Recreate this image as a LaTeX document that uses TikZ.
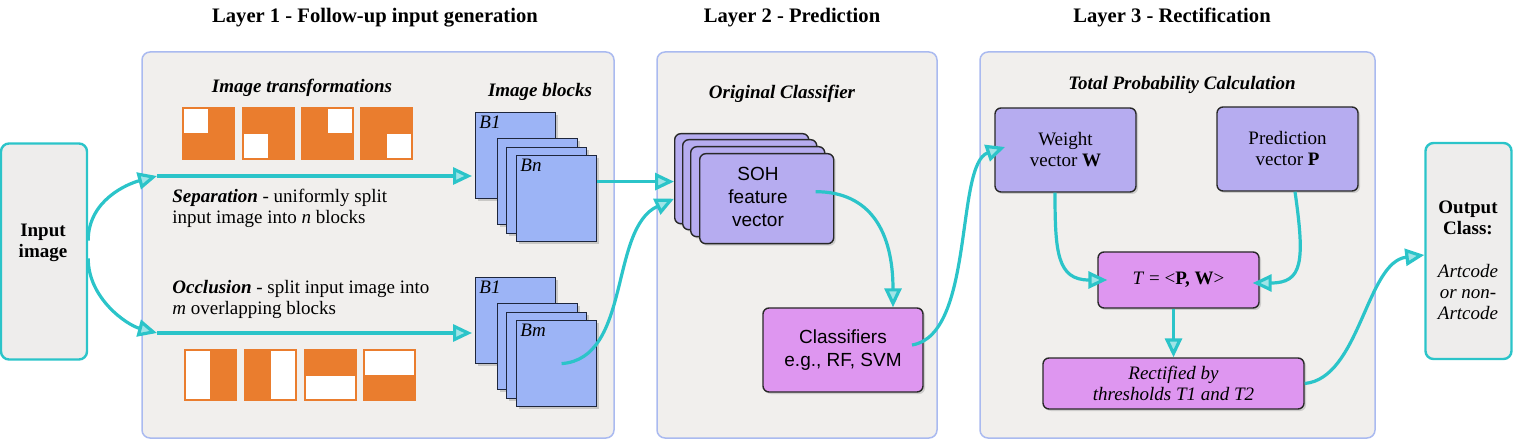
\documentclass[tikz,border=0pt]{standalone}
\usepackage{fontspec}
\setmainfont{Liberation Serif}
\setsansfont{Liberation Sans}
\usetikzlibrary{arrows.meta}
\usetikzlibrary{shadows}
\definecolor{myteal}{RGB}{43,196,201}
\definecolor{panelfill}{RGB}{241,239,237}
\definecolor{panelline}{RGB}{170,186,240}
\definecolor{iofill}{RGB}{238,237,236}
\definecolor{orng}{RGB}{234,125,46}
\definecolor{blkblue}{RGB}{156,180,246}
\definecolor{blkline}{RGB}{30,38,60}
\definecolor{lav}{RGB}{182,172,240}
\definecolor{pink}{RGB}{222,150,240}
\definecolor{boxline}{RGB}{40,40,40}

\tikzset{
  flow/.style={draw=myteal, line width=1.6pt, -{Triangle[length=9.5pt,width=8.5pt,fill=myteal!45!white]}},
  panel/.style={draw=panelline, fill=panelfill, line width=0.75pt, rounded corners=4pt},
  iobox/.style={draw=myteal, fill=iofill, line width=1.2pt, rounded corners=4pt, minimum width=43pt, minimum height=108pt},
  iotext/.style={align=center, inner sep=0pt},
  ttl/.style={anchor=base, inner sep=0pt, font=\fontsize{10.3}{12}\selectfont\bfseries},
  sub/.style={anchor=base, inner sep=0pt, font=\fontsize{9.5}{11}\selectfont\bfseries\itshape},
  blk/.style={anchor=north west, draw=blkline, fill=blkblue, line width=0.6pt, minimum width=40pt, minimum height=43pt, drop shadow={shadow xshift=1.2pt, shadow yshift=-1.2pt, opacity=0.35}},
  blklbl/.style={anchor=north west, inner sep=2pt, font=\fontsize{9.5}{11}\selectfont\itshape},
  card/.style={anchor=north west, draw=boxline, fill=lav, line width=0.7pt, rounded corners=3pt, minimum width=67pt, minimum height=45pt, drop shadow={shadow xshift=1pt, shadow yshift=-1pt, opacity=0.3}},
  vbox/.style={draw=boxline, fill=lav, line width=0.7pt, rounded corners=3pt, minimum width=70.5pt, minimum height=42pt, align=center, inner sep=1pt, drop shadow={shadow xshift=1pt, shadow yshift=-1pt, opacity=0.3}},
  pbox/.style={draw=boxline, fill=pink, line width=0.7pt, rounded corners=3pt, align=center, inner sep=1pt, drop shadow={shadow xshift=1pt, shadow yshift=-1pt, opacity=0.3}},
  sans/.style={font=\fontsize{9.5}{11.5}\selectfont\sffamily}
}

\begin{document}
\begin{tikzpicture}[x=0.5pt,y=-0.5pt,font=\fontsize{9.5}{10.5}\selectfont]
  \useasboundingbox (0,0) rectangle (1515,443);

  % layer panels
  \draw[panel] (142,52) rectangle (614,438);
  \draw[panel] (657,52) rectangle (937,438);
  \draw[panel] (980,52) rectangle (1375,438);
  \node[ttl] (ttlA) at (375,23) {Layer 1 - Follow-up input generation};
  \node[ttl] (ttlB) at (792,23) {Layer 2 - Prediction};
  \node[ttl] (ttlC) at (1172,23) {Layer 3 - Rectification};
  \node[sub] (subT) at (302,93) {Image transformations};
  \node[sub] (subB) at (540,97) {Image blocks};
  \node[sub] (subC) at (782,99) {Original Classifier};
  \node[sub] (subP) at (1182,90) {Total Probability Calculation};

  \node[iobox] (in) at (44,251.5) {};
  \node[iotext] (inTxt) at (43,243) {\textbf{Input}\\\textbf{image}};
  \node[iobox] (out) at (1468.5,251) {};
  \node[iotext] (outTxt) at (1468,260) {\textbf{Output}\\\textbf{Class:}\\[11pt]\textit{Artcode}\\\textit{or non-}\\\textit{Artcode}};

  % transformations
  \foreach \x/\dx/\dy in {182/2/2, 242/2/27, 301/27/2, 360/27/27}{
    \fill[orng] (\x,107) rectangle +(53,53);
    \fill[white] (\x+\dx,107+\dy) rectangle +(24,24);
  }
  \foreach \x/\a/\b/\c/\d in {184/2/2/26/50, 244/27/2/51/50, 304/2/27/51/50, 363/2/2/51/26}{
    \fill[orng] (\x,349) rectangle +(53,52);
    \fill[white] (\x+\a,349+\b) rectangle (\x+\c,349+\d);
  }
  \node[anchor=west, inner sep=0pt, align=left] (sepTxt) at (172,208.5)
    {\textbf{\textit{Separation}} - uniformly split\\input image into \textit{n} blocks};
  \node[anchor=west, inner sep=0pt, align=left] (occTxt) at (172,299.5)
    {\textbf{\textit{Occlusion}} - split input image into\\\textit{m} overlapping blocks};

  % image blocks
  \foreach \sy/\s/\l in {0/top/n, 165/bot/m}{
    \node[blk, label={[blklbl]north west:B1}] (\s1) at (475,112+\sy) {};
    \node[blk] (\s2) at (497,138+\sy) {};
    \node[blk] (\s3) at (506,147+\sy) {};
    \node[blk, label={[blklbl]north west:B\l}] (\s n) at (516,155+\sy) {};
  }

  % prediction
  \foreach \x/\y/\n in {674/133/1, 682/139/2, 690/146/3}{
    \node[card] (soh\n) at (\x,\y) {};
  }
  \node[card] (soh) at (699,153) {};
  \node[sans, align=center, inner sep=0pt] (sohTxt) at (758,197) {SOH\\feature\\vector};
  \node[pbox, sans, minimum width=80pt, minimum height=42pt] (cls) at (843,350) {Classifiers\\e.g., RF, SVM};

  % rectification
  \node[vbox] (wt) at (1065.5,150) {Weight\\vector \textbf{W}};
  \node[vbox] (pr) at (1287.5,149) {Prediction\\vector \textbf{P}};
  \node[pbox, minimum width=80.5pt, minimum height=28pt] (tb) at (1178.5,280) {\textit{T} = <\textbf{P, W}>};
  \node[pbox, minimum width=130.5pt, minimum height=25.5pt, font=\fontsize{9.5}{10.5}\selectfont\itshape] (rf) at (1173.5,383.5) {Rectified by\\thresholds T1 and T2};

  % connectors
  \coordinate (sepL) at (157,176);
  \coordinate (occL) at (157,333);
  \draw[flow] ([yshift=5.5pt]in.east) .. controls +(0,-40) and +(-30,8) .. (sepL);
  \draw[flow, shorten >=1.5pt] (sepL) -- (sepL -| top1.west);
  \draw[flow] ([yshift=-3.5pt]in.east) .. controls +(0,40) and +(-30,-8) .. (occL);
  \draw[flow, shorten >=1.5pt] (occL) -- (occL -| bot1.west);
  \draw[flow] ([yshift=8.5pt]topn.east) -- ([yshift=8.5pt]topn.east -| soh1.west);
  \draw[flow] ([xshift=2.5pt]botn.center) .. controls +(70,-5) and +(-65,30) .. ([yshift=-10pt]soh1.west);
  \draw[flow] ([xshift=24.5pt,yshift=3.5pt]soh.center) .. controls +(55,0) and +(0,-75) .. ([xshift=25pt]cls.north);
  \draw[flow] ([xshift=34.5pt,yshift=2.5pt]cls.center) .. controls +(63,-10) and +(-50,17) .. ([xshift=-30.25pt,yshift=1.5pt]wt.center);
  \draw[flow] ([xshift=-5.25pt]wt.south) .. controls +(0,60) and +(-50,0) .. ([xshift=5pt]tb.west);
  \draw[flow] ([xshift=3.75pt]pr.south) .. controls +(10,70) and +(50,0) .. ([xshift=-3.5pt,yshift=-1.5pt]tb.east);
  \draw[flow] (tb.south -| rf.north) -- (rf.north);
  \draw[flow] (rf.east) .. controls +(55,-5) and +(-58,7) .. ([yshift=-2pt]out.west);
\end{tikzpicture}
\end{document}
